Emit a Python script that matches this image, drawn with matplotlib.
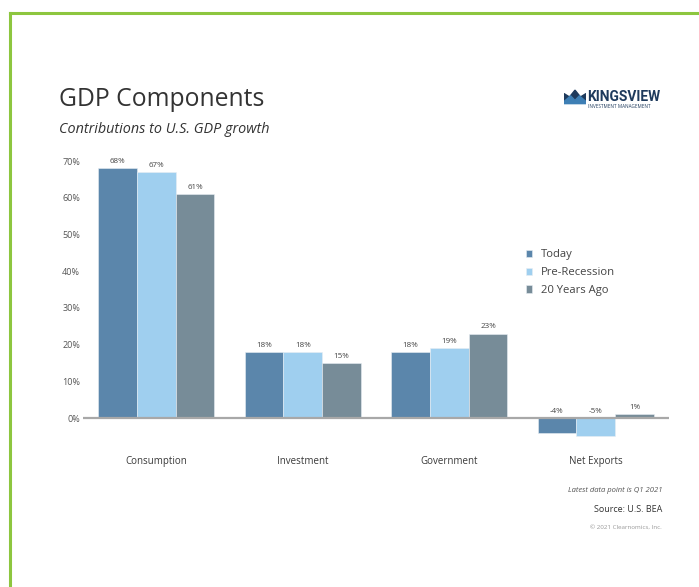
import matplotlib
matplotlib.use("Agg")
import matplotlib.pyplot as plt
from matplotlib.lines import Line2D
from matplotlib.patches import Polygon
import numpy as np

categories = ["Consumption", "Investment", "Government", "Net Exports"]
series_names = ["Today", "Pre-Recession", "20 Years Ago"]
today = [68, 18, 18, -4]
pre_recession = [67, 18, 19, -5]
twenty_years = [61, 15, 23, 1]
yticks = [0, 10, 20, 30, 40, 50, 60, 70]
ytick_labels = ["0%", "10%", "20%", "30%", "40%", "50%", "60%", "70%"]

colors = ["#5B86AB", "#9FCFEF", "#778C98"]
FONT = ["Open Sans", "DejaVu Sans"]
plt.rcParams["font.family"] = FONT

W, H = 699, 587
fig = plt.figure(figsize=(W / 100, H / 100), dpi=100)
fig.patch.set_facecolor("white")

def fx(px):
    return px / W

def fy(py):
    return 1 - py / H

# green frame (left and top)
fig.add_artist(Line2D([fx(10), fx(10)], [0, fy(13)], color="#8DC63F", lw=2.2, transform=fig.transFigure))
fig.add_artist(Line2D([fx(10), 1], [fy(13), fy(13)], color="#8DC63F", lw=2.2, transform=fig.transFigure))

ylo, yhi = -7, 72
ax_left, ax_right = 83, 669
top_px = 418 - (yhi / 10) * 36.71
bot_px = 418 - (ylo / 10) * 36.71
ax = fig.add_axes([fx(ax_left), fy(bot_px), fx(ax_right - ax_left), (bot_px - top_px) / H])
ax.set_xlim(-0.5, 3.5)
ax.set_ylim(ylo, yhi)

x = np.arange(len(categories))
bw = 0.265
all_series = [today, pre_recession, twenty_years]
for i, (vals, name, c) in enumerate(zip(all_series, series_names, colors)):
    pos = x + (i - 1) * bw
    ax.bar(pos, vals, width=bw, color=c, edgecolor="#e8eef3", linewidth=0.4, label=name, zorder=2)
    for p, v in zip(pos, vals):
        ax.text(p, max(v, 0) + 0.9, f"{v}%", ha="center", va="bottom", fontsize=5.8, color="#444444")

ax.axhline(0, color="#A8A8A8", lw=1.6, zorder=3)
for s in ax.spines.values():
    s.set_visible(False)
ax.set_yticks(yticks)
ax.set_yticklabels(ytick_labels)
ax.tick_params(axis="y", length=0, pad=2, labelsize=6.5, labelcolor="#555555")
ax.set_xticks(x)
ax.set_xticklabels(categories)
ax.tick_params(axis="x", length=0, pad=9, labelsize=7, labelcolor="#3a3a3a")

leg = ax.legend(loc="upper left", bbox_to_anchor=((521 - ax_left) / (ax_right - ax_left), 1 - (245 - top_px) / (bot_px - top_px)),
                frameon=False, fontsize=8.1, handlelength=0.6, handleheight=0.6, handletextpad=0.75,
                labelspacing=0.6, borderaxespad=0)
for t in leg.get_texts():
    t.set_color("#444444")

# titles
fig.text(fx(59), fy(100), "GDP Components", fontsize=17.8, color="#333333", va="center", ha="left")
fig.text(fx(59), fy(129), "Contributions to U.S. GDP growth", fontsize=10.4, color="#333333", va="center",
         ha="left", style="italic")

# footer
fig.text(fx(662), fy(490), "Latest data point is Q1 2021", fontsize=5.5, style="italic", color="#555555",
         ha="right", va="center")
fig.text(fx(662), fy(510), "Source: U.S. BEA", fontsize=6.5, color="#333333", ha="right", va="center")
fig.text(fx(662), fy(527), "© 2021 Clearnomics, Inc.", fontsize=4.5, color="#999999", ha="right", va="center")

# logo
lax = fig.add_axes([fx(564), fy(105), fx(22), (105 - 89) / H])
lax.set_xlim(0, 10)
lax.set_ylim(0, 7)
lax.axis("off")
lax.add_patch(Polygon([[0, 1], [0, 5], [2.5, 3.5], [5, 6.5], [7.5, 3.5], [10, 5], [10, 1]], closed=True,
                      color="#1E3A5C"))
lax.add_patch(Polygon([[0, 1.5], [3, 4], [5, 2], [7, 4], [10, 1.5], [10, 0.6], [0, 0.6]], closed=True,
                      color="#3E7FB5"))
fig.text(fx(587), fy(97), "KINGSVIEW", fontsize=9.9, weight="bold", color="#1E3A5C", ha="left", va="center",
         family=["Roboto", "DejaVu Sans"])
fig.text(fx(588), fy(106), "INVESTMENT MANAGEMENT", fontsize=3.3, color="#1E3A5C", ha="left", va="center")

fig.savefig("out.png", dpi=100, facecolor="white")
